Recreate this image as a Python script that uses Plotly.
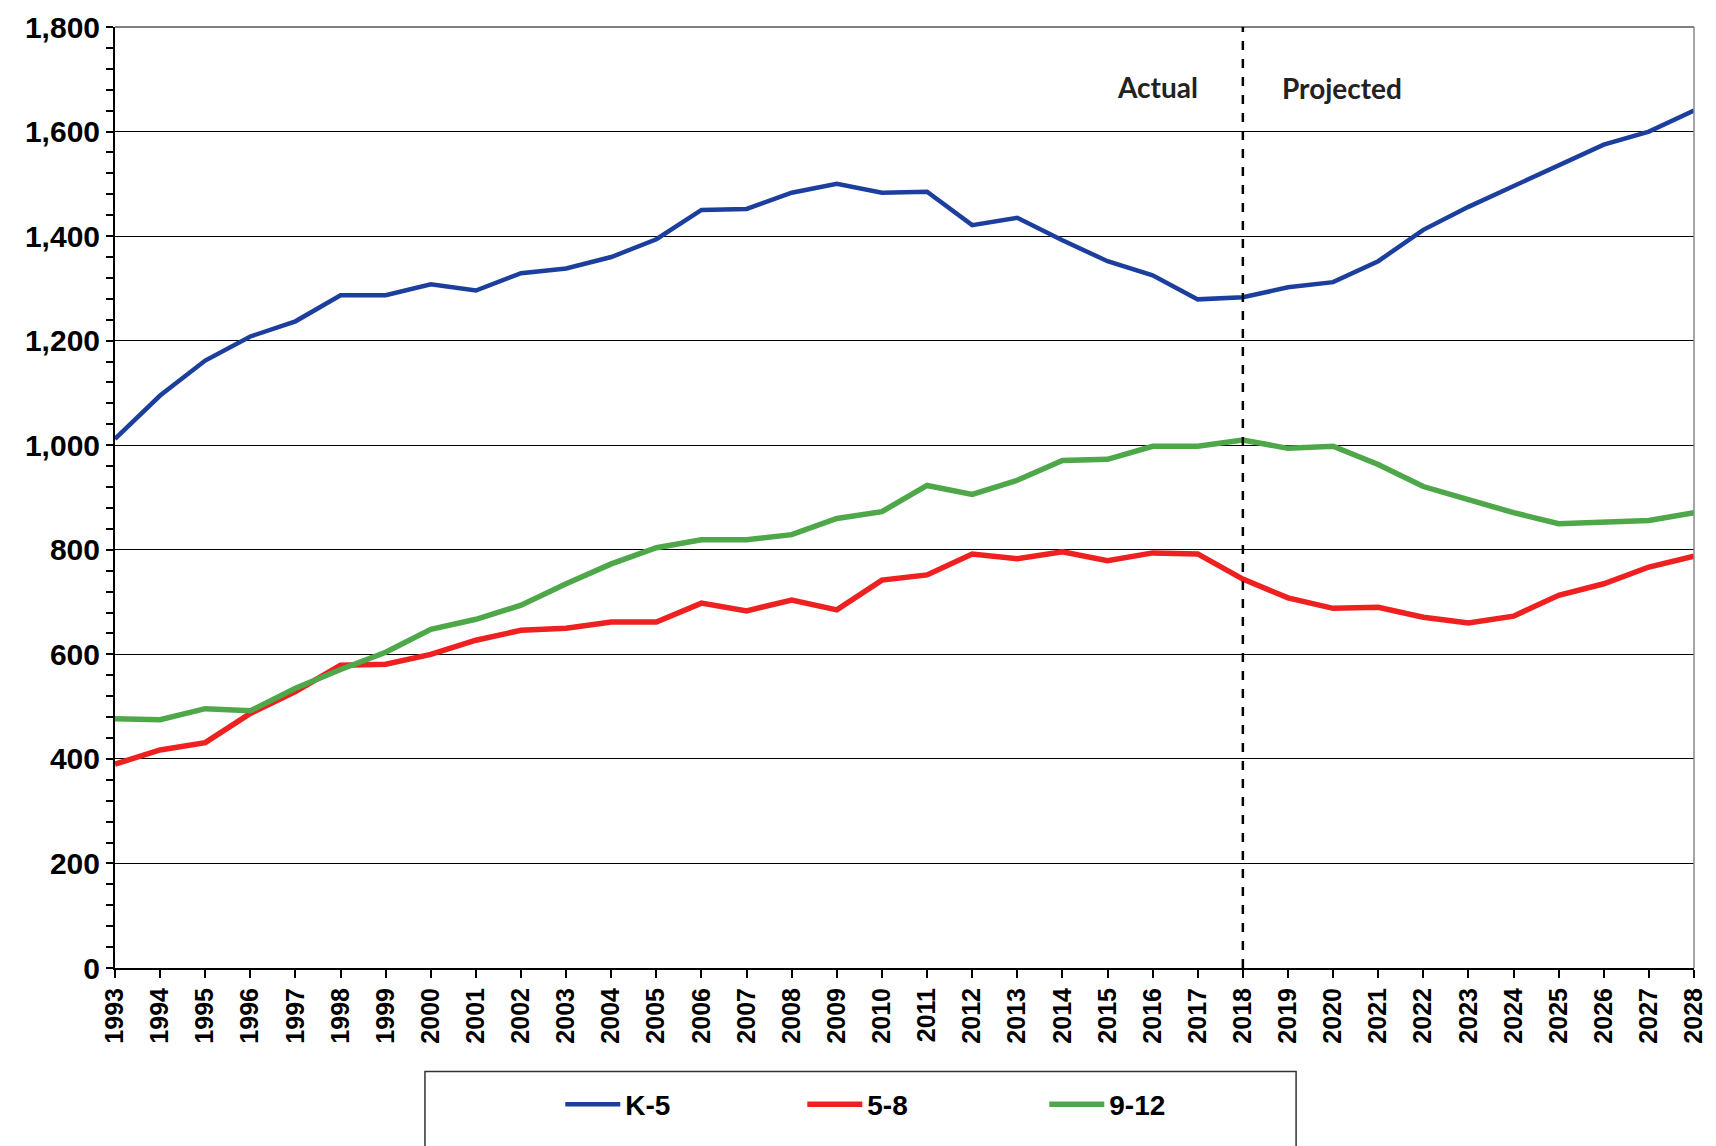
import plotly.graph_objects as go

# --- data ---
years = list(range(1993, 2029))

k5 = [1012, 1095, 1162, 1208, 1237, 1287, 1287, 1308, 1296, 1329, 1338, 1360,
      1394, 1450, 1452, 1483, 1500, 1483, 1485, 1421, 1435, 1392, 1352, 1325,
      1279, 1283, 1302, 1312, 1352, 1412, 1456, 1496, 1535, 1575, 1600, 1640]

g5_8 = [390, 417, 431, 487, 529, 579, 581, 600, 627, 646, 650, 662,
        662, 698, 683, 704, 685, 742, 752, 792, 783, 796, 779, 794,
        792, 744, 708, 688, 690, 671, 660, 673, 713, 735, 767, 788]

g9_12 = [477, 475, 496, 492, 535, 571, 604, 648, 667, 694, 735, 773,
         804, 819, 819, 829, 860, 873, 923, 906, 933, 971, 973, 998,
         998, 1010, 994, 998, 963, 921, 896, 871, 850, 854, 856, 871]

series_names = ["K-5", "5-8", "9-12"]
series_colors = ["#1c3f9e", "#ee2020", "#4ea84a"]
split_year = 2018

BOLD = dict(family="Arial, Liberation Sans", color="black", weight="bold")

fig = go.Figure()
for name, vals, color, w in zip(series_names, [k5, g5_8, g9_12], series_colors, [4.5, 5.5, 5.5]):
    fig.add_trace(go.Scatter(x=years, y=vals, mode="lines", name=name,
                             line=dict(color=color, width=w)))

# page body adds an 8px offset, margins compensate for it
fig.update_layout(
    width=1716, height=1146,
    margin=dict(l=107, r=30, t=19, b=186),
    paper_bgcolor="white", plot_bgcolor="white",
    showlegend=True,
    legend=dict(orientation="h", x=0.282, y=-0.145, xanchor="left", yanchor="middle",
                entrywidth=172, entrywidthmode="pixels", itemwidth=55, borderwidth=0,
                bgcolor="rgba(0,0,0,0)", font=dict(size=28, **BOLD)),
    xaxis=dict(range=[1993, 2028], tickmode="array", tickvals=years,
               ticktext=[str(y) for y in years], tickangle=-90, automargin=False,
               ticks="outside", ticklen=8, tickwidth=1.5, tickcolor="black",
               showgrid=False, zeroline=False, showline=True, linecolor="black",
               linewidth=2, tickfont=dict(size=25, **BOLD)),
    yaxis=dict(range=[0, 1800], dtick=200, tickformat=",d", automargin=False,
               ticklabeloverflow="allow",
               ticks="outside", ticklen=7, tickwidth=1.5, tickcolor="black",
               minor=dict(dtick=40, ticks="outside", ticklen=7, tickwidth=1.5,
                          tickcolor="black", showgrid=False),
               showgrid=True, gridcolor="black", gridwidth=1.2, zeroline=False,
               showline=True, linecolor="black", linewidth=2,
               tickfont=dict(size=30, **BOLD)),
    # overlay axis only to draw the inner half of the crossing ticks
    yaxis2=dict(range=[0, 1800], overlaying="y", side="left", dtick=200, automargin=False,
                ticks="inside", ticklen=7, tickwidth=1.5, tickcolor="black",
                minor=dict(dtick=40, ticks="inside", ticklen=7, tickwidth=1.5,
                           tickcolor="black", showgrid=False),
                showticklabels=False, showgrid=False, zeroline=False, showline=False),
)

# top and right frame edges
fig.add_shape(type="line", xref="paper", yref="paper", x0=0, x1=1, y0=1, y1=1,
              line=dict(color="black", width=1.2))
fig.add_shape(type="line", xref="paper", yref="paper", x0=1, x1=1, y0=0, y1=1,
              line=dict(color="#888888", width=1.5))

# actual / projected divider
fig.add_shape(type="line", xref="x", yref="paper", x0=split_year, x1=split_year,
              y0=0, y1=1, line=dict(color="black", width=2.5, dash="dash"))
fig.add_annotation(x=2016.1, y=1685, text="Actual", showarrow=False,
                   font=dict(size=28, family="Lato, Open Sans", color="#222", weight="bold"))
fig.add_annotation(x=2020.2, y=1683, text="Projected", showarrow=False,
                   font=dict(size=28, family="Lato, Open Sans", color="#222", weight="bold"))

# legend frame
fig.add_shape(type="rect", xref="paper", yref="paper", x0=0.1963, x1=0.748,
              y0=-0.25, y1=-0.110, line=dict(color="#333333", width=1.5))

fig.write_html("out.html")
